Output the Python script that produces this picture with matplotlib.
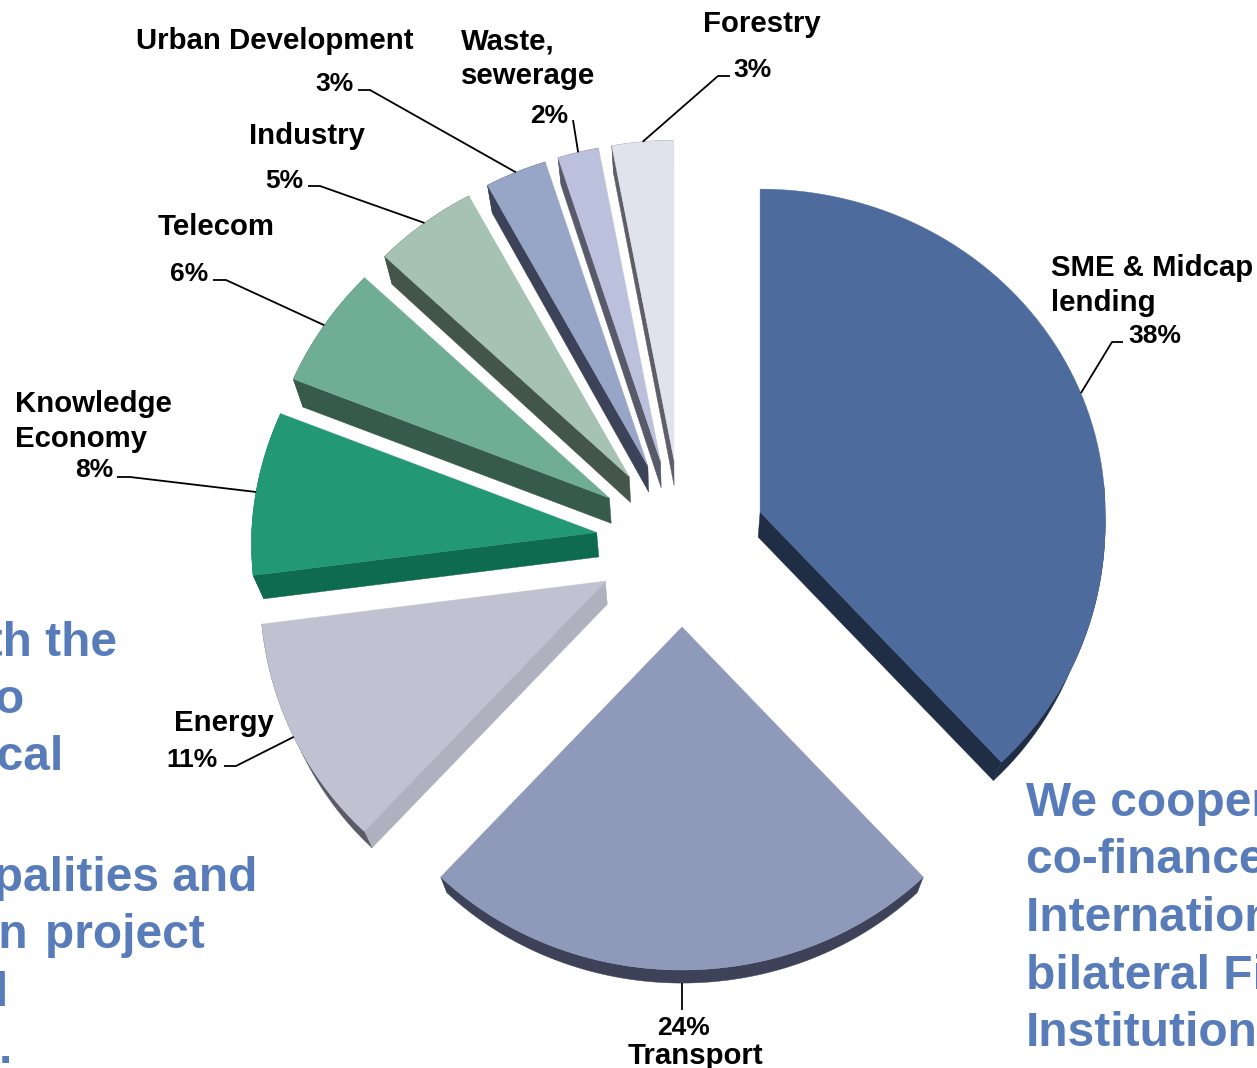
import matplotlib
matplotlib.use('Agg')
import matplotlib.pyplot as plt
from matplotlib.patches import Polygon
import numpy as np

# sector data, clockwise from 12 o'clock
sectors = ['SME & Midcap\nlending', 'Transport', 'Energy', 'Knowledge\nEconomy', 'Telecom',
           'Industry', 'Urban Development', 'Waste,\nsewerage', 'Forestry']
shares = [38, 24, 11, 8, 6, 5, 3, 2, 3]

top_colors = ['#4d6b9c', '#8f99ba', '#c0c2d1', '#229874', '#6fae95',
              '#a6c2b3', '#97a5c6', '#bbc0dc', '#e0e2ec']
side_colors = ['#1f2e45', '#b0b1bf', '#b0b1bf', '#0f6b50', '#365a4b',
               '#445549', '#3c4358', '#585a6a', '#5e5e68']
rim_colors = ['#1f2e45', '#3d4258', '#5a5a68', '#0f6b50', '#365a4b',
              '#445549', '#3c4358', '#585a6a', '#5e5e68']

# label layout in pixels: name anchor, pct anchor, leader start, leader elbow
name_pos = [(1051, 276), (695, 1064), (174, 731), (15, 412), (158, 235),
            (249, 144), (136, 49), (461, 49), (703, 32)]
pct_pos = [(1128, 343), (683, 1035), (166, 767), (75, 477), (170, 281),
           (265, 188), (315, 91), (530, 123), (733, 77)]
lead_start = [(1123, 342), (682, 1010), (224, 766), (117, 477), (213, 280),
              (308, 186), (358, 90), (573, 120), (730, 76)]
lead_elbow = [(1112, 342), (682, 1010), (236, 766), (130, 477), (226, 280),
              (320, 186), (370, 90), (573, 120), (718, 76)]

left_lines = ['with the', 'to', 'local', 'municipalities and', 'in\u200a project', 'and', '.']
left_xy = [(117, 656), (25, 713), (64, 770), (257, 891), (205, 948), (9, 1006), (12, 1063)]
right_lines = ['We cooperate with', 'co-finance with', 'International and',
               'bilateral Financial', 'Institutions']
right_y = [816, 873, 931, 989, 1046]

CX, CY = 682, 543
EXPLODE_R, EXPLODE_L = 84, 86
RX = 345
RY_UP, RY_DOWN = 323, 343
BLUE = '#587cba'

plt.rcParams['font.family'] = ['Liberation Sans', 'DejaVu Sans']


def rim(apex, ang):
    # perspective squash: far side narrower and shorter than the near side
    s, c = np.sin(ang), np.cos(ang)
    rx = RX * np.where(c > 0, 1 - 0.04 * c * (s < 0), 1 - 0.03 * c)
    ry = np.where(c > 0, RY_UP - 4 * c ** 3 * (s < 0), RY_DOWN)
    return apex[0] + rx * s, apex[1] - ry * c


def extrude(x, y):
    # bottom face points lean towards a vanishing point under the pie
    dx = -0.025 * (x - CX)
    dy = np.minimum(25 - 0.026 * (y - 512), 28)
    return x + dx, y + dy


fig = plt.figure(figsize=(12.57, 10.68), dpi=100)
ax = fig.add_axes([0, 0, 1, 1])
ax.set_xlim(0, 1257)
ax.set_ylim(1068, 0)
ax.axis('off')

edges = np.cumsum([0] + shares) / sum(shares) * 2 * np.pi
for i in range(len(shares)):
    a0, a1 = edges[i], edges[i + 1]
    mid = (a0 + a1) / 2
    offs = EXPLODE_R if np.sin(mid) > 0 else EXPLODE_L
    apex = (CX + offs * np.sin(mid), CY - 84 * np.cos(mid))
    ang = np.linspace(a0, a1, 80)
    rx, ry = rim(apex, ang)
    ax_b, ay_b = extrude(np.array(apex[0]), np.array(apex[1]))
    bx, by = extrude(rx, ry)

    # radial side faces, only the ones turned towards the viewer
    if np.sin(a0) < -1e-9:
        ax.add_patch(Polygon([apex, (rx[0], ry[0]), (bx[0], by[0]), (ax_b, ay_b)],
                             fc=side_colors[i], ec=side_colors[i], lw=0.3, zorder=2))
    if np.sin(a1) > 1e-9:
        ax.add_patch(Polygon([apex, (rx[-1], ry[-1]), (bx[-1], by[-1]), (ax_b, ay_b)],
                             fc=side_colors[i], ec=side_colors[i], lw=0.3, zorder=2))
    # outer rim, the upper right part faces away
    vis = ~((np.sin(ang) > -1e-9) & (np.cos(ang) > 0.1))
    ax.add_patch(Polygon(np.r_[np.c_[rx[vis], ry[vis]], np.c_[bx[vis], by[vis]][::-1]],
                         fc=rim_colors[i], ec=rim_colors[i], lw=0.3, zorder=2))
    # top face
    ax.add_patch(Polygon(np.r_[[apex], np.c_[rx, ry]], fc=top_colors[i], ec=top_colors[i],
                         lw=0.3, zorder=3))

    # leader line up to the rim
    ex, ey = rim(apex, mid)
    if sectors[i] == 'Transport':
        ex, ey = extrude(ex, ey)
    ax.plot([lead_start[i][0], lead_elbow[i][0], ex], [lead_start[i][1], lead_elbow[i][1], ey],
            color='black', lw=1.3, zorder=4, solid_capstyle='butt')

    # labels
    ha = 'center' if sectors[i] == 'Transport' else 'left'
    for j, part in enumerate(sectors[i].split('\n')):
        ax.text(name_pos[i][0], name_pos[i][1] + j * 35, part, fontsize=21.2, fontweight='bold',
                ha=ha, va='baseline', zorder=5)
    ax.text(pct_pos[i][0], pct_pos[i][1], f'{shares[i]}%', fontsize=19, fontweight='bold',
            ha=ha, va='baseline', zorder=5)

# blue captions, cut by the picture edges
for line, (x, y) in zip(left_lines, left_xy):
    ax.text(x, y, line, fontsize=34.5, fontweight='bold', color=BLUE, ha='right', va='baseline')
for line, y in zip(right_lines, right_y):
    ax.text(1026, y, line, fontsize=34.5, fontweight='bold', color=BLUE, ha='left', va='baseline')

fig.savefig('out.png', dpi=100)
